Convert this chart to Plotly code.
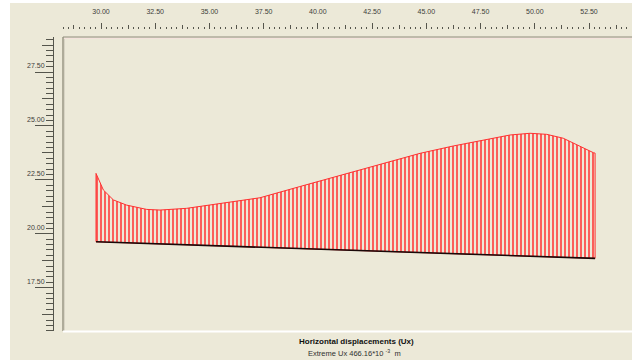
import plotly.graph_objects as go

# ---- data ----
top_x = [29.77, 30.11, 30.57, 31.18, 32.11, 32.72, 33.95, 35.03, 36.09, 37.33,
         39.17, 41.48, 43.79, 44.71, 46.24, 47.48, 48.86, 49.78, 50.55, 51.31,
         51.93, 52.39, 52.70, 52.78]
top_y = [22.80, 22.03, 21.57, 21.33, 21.13, 21.10, 21.18, 21.33, 21.49, 21.67,
         22.19, 22.83, 23.47, 23.73, 24.07, 24.32, 24.58, 24.66, 24.61, 24.43,
         24.12, 23.88, 23.76, 23.74]
base_x = [29.77, 52.78]
base_y = [19.63, 18.86]

x_ticks = [30.0, 32.5, 35.0, 37.5, 40.0, 42.5, 45.0, 47.5, 50.0, 52.5]
y_ticks = [17.5, 20.0, 22.5, 25.0, 27.5]

title_text = "Horizontal displacements (Ux)"
sub_text = "Extreme Ux 466.16*10 <sup>-3</sup>  m"

# ---- geometry (pixels of 632x360 page) ----
W, H = 632, 360
def px(x):
    return x / W
def py(y):
    return 1 - y / H

BG = "#ECE9D8"
TICK = "#55554c"
FONT = "Liberation Sans"

x_range = [28.248, 54.482]
y_range = [15.493, 29.123]
x_dom = [px(63), 1.0]
y_dom = [py(331), py(37)]

poly_x = top_x + base_x[::-1] + [top_x[0]]
poly_y = top_y + base_y[::-1] + [top_y[0]]

fig = go.Figure()
fig.add_trace(go.Scatter(
    x=poly_x, y=poly_y, mode="lines", fill="toself",
    line=dict(color="#ff3030", width=1),
    fillcolor="rgba(0,0,0,0)",
    fillpattern=dict(shape="|", size=4, solidity=0.4, fgcolor="#ff3a3a",
                     bgcolor="rgba(0,0,0,0)", fillmode="replace"),
    hoverinfo="skip", showlegend=False))
fig.add_trace(go.Scatter(
    x=base_x, y=base_y, mode="lines",
    line=dict(color="#1a0808", width=1.6),
    hoverinfo="skip", showlegend=False))

hidden = dict(showgrid=False, zeroline=False, showline=False,
              showticklabels=False, ticks="")

fig.update_layout(
    width=W, height=H,
    margin=dict(l=0, r=0, t=0, b=0),
    paper_bgcolor=BG, plot_bgcolor=BG,
    showlegend=False,
    xaxis=dict(domain=x_dom, range=x_range, anchor="y", **hidden),
    yaxis=dict(domain=y_dom, range=y_range, anchor="x", **hidden),
    # top ruler: majors with labels + minors
    xaxis2=dict(domain=x_dom, range=x_range, overlaying="x", anchor="free",
                position=py(29), side="top", showgrid=False, zeroline=False,
                showline=False, ticks="outside", ticklen=6, tickwidth=1,
                tickcolor=TICK, tickmode="array", tickvals=x_ticks,
                ticktext=[f"{v:.2f}" for v in x_ticks],
                tickfont=dict(family=FONT, size=7, color="#404038"),
                ticklabelstandoff=6,
                minor=dict(dtick=0.25, tick0=0, ticklen=2.5, tickwidth=1,
                           tickcolor=TICK, ticks="outside", showgrid=False)),
    # top ruler medium ticks
    xaxis3=dict(domain=x_dom, range=x_range, overlaying="x", anchor="free",
                position=py(29), side="top", showgrid=False, zeroline=False,
                showline=False, showticklabels=False, ticks="outside",
                ticklen=4, tickwidth=1, tickcolor=TICK, dtick=1.25, tick0=0),
    # left ruler
    yaxis2=dict(domain=y_dom, range=y_range, overlaying="y", anchor="free",
                position=px(53), side="left", showgrid=False, zeroline=False,
                showline=True, linecolor=TICK, linewidth=1,
                ticks="outside", ticklen=18, tickwidth=1,
                tickcolor=TICK, tickmode="array", tickvals=y_ticks,
                ticktext=[f"{v:.2f}" for v in y_ticks],
                tickfont=dict(family=FONT, size=7, color="#404038"),
                ticklabelstandoff=-11, ticklabelshift=-6,
                minor=dict(dtick=0.25, tick0=0, ticklen=7, tickwidth=1,
                           tickcolor=TICK, ticks="outside", showgrid=False)),
    yaxis3=dict(domain=y_dom, range=y_range, overlaying="y", anchor="free",
                position=px(53), side="left", showgrid=False, zeroline=False,
                showline=False, showticklabels=False, ticks="outside",
                ticklen=11, tickwidth=1, tickcolor=TICK, dtick=1.25, tick0=0),
)

# dummy traces so the ruler axes are drawn
fig.add_trace(go.Scatter(x=[None], y=[None], xaxis="x2", yaxis="y",
                         showlegend=False, hoverinfo="skip"))
fig.add_trace(go.Scatter(x=[None], y=[None], xaxis="x3", yaxis="y",
                         showlegend=False, hoverinfo="skip"))
fig.add_trace(go.Scatter(x=[None], y=[None], xaxis="x", yaxis="y2",
                         showlegend=False, hoverinfo="skip"))
fig.add_trace(go.Scatter(x=[None], y=[None], xaxis="x", yaxis="y3",
                         showlegend=False, hoverinfo="skip"))

shapes = [
    # white strips at left and top edge
    dict(type="rect", xref="paper", yref="paper", x0=0, x1=px(10), y0=0, y1=1,
         fillcolor="white", line=dict(width=0), layer="below"),
    dict(type="rect", xref="paper", yref="paper", x0=0, x1=1, y0=py(3), y1=1,
         fillcolor="white", line=dict(width=0), layer="below"),
    # frame
    dict(type="line", xref="paper", yref="paper", x0=px(63), x1=px(63),
         y0=py(331), y1=py(37), line=dict(color="#9a9684", width=1.5)),
    dict(type="line", xref="paper", yref="paper", x0=px(64.5), x1=px(64.5),
         y0=py(331), y1=py(38.5), line=dict(color="#d8d4c4", width=1)),
    dict(type="line", xref="paper", yref="paper", x0=px(63), x1=1,
         y0=py(37), y1=py(37), line=dict(color="#8f8c7c", width=1.2)),
    dict(type="line", xref="paper", yref="paper", x0=px(64), x1=1,
         y0=py(38.5), y1=py(38.5), line=dict(color="#f4e2dc", width=1)),
    dict(type="line", xref="paper", yref="paper", x0=px(63), x1=1,
         y0=py(331.5), y1=py(331.5), line=dict(color="#ffffff", width=2)),
]
fig.update_layout(shapes=shapes)

fig.add_annotation(x=px(356), y=py(341.7), xref="paper", yref="paper",
                   text=f"<b>{title_text}</b>", showarrow=False,
                   font=dict(family=FONT, size=8, color="#101010"),
                   xanchor="center", yanchor="middle")
fig.add_annotation(x=px(354), y=py(352.5), xref="paper", yref="paper",
                   text=sub_text, showarrow=False,
                   font=dict(family=FONT, size=7.5, color="#303030"),
                   xanchor="center", yanchor="middle")

fig.write_html("out.html")
